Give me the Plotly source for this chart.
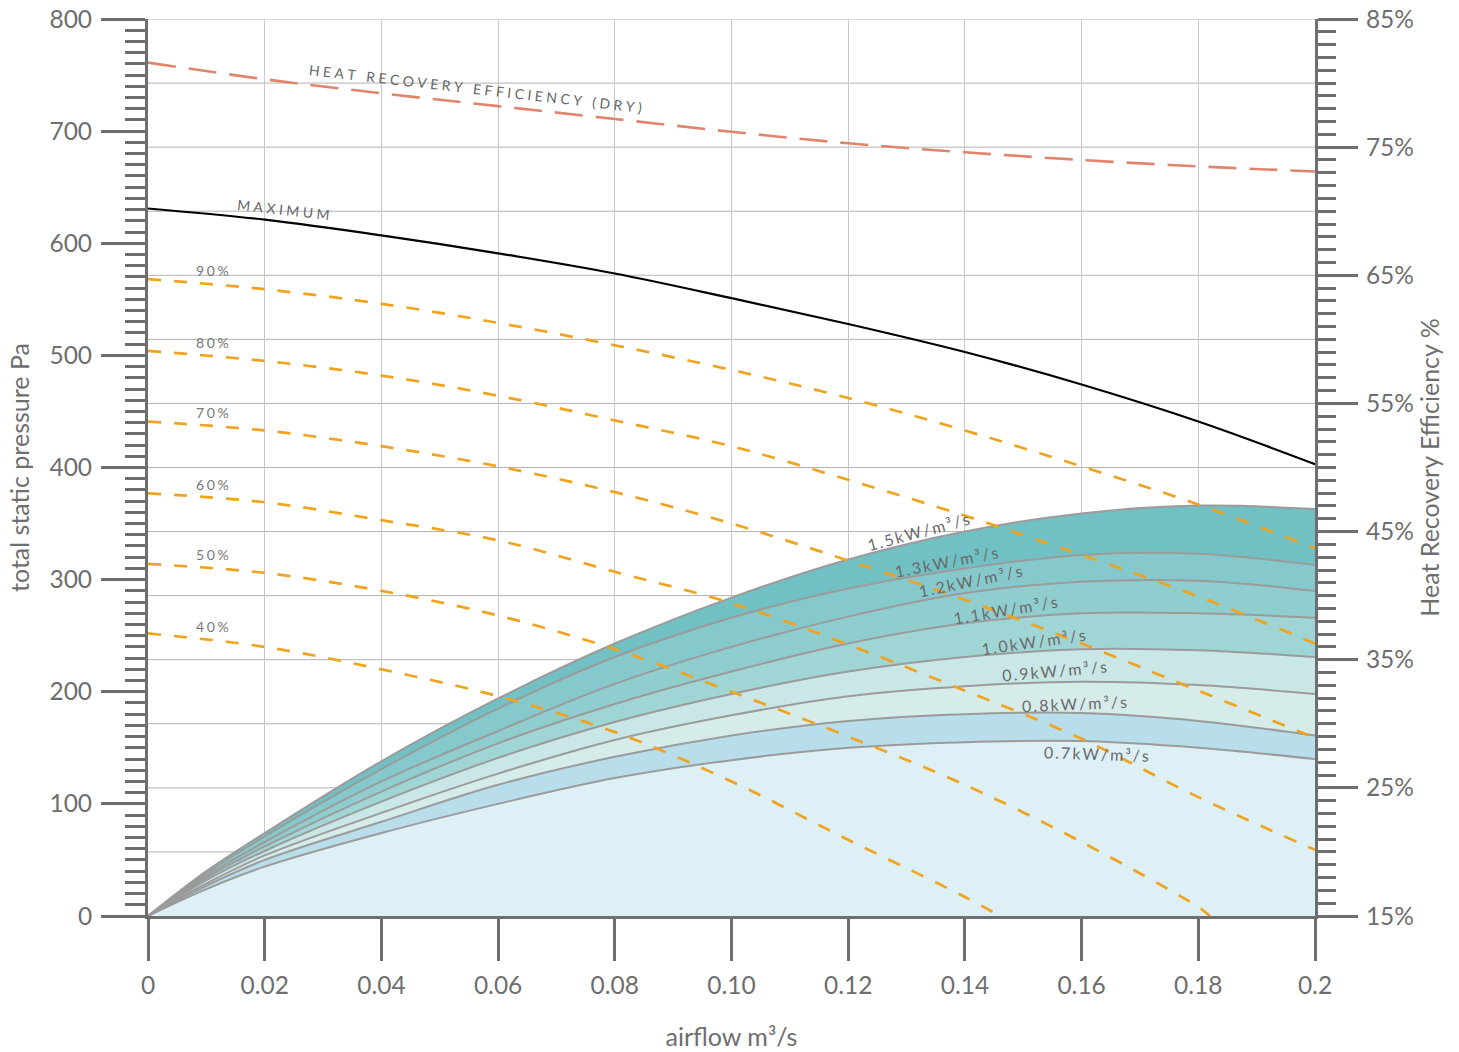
import numpy as np
import plotly.graph_objects as go

# ---------------- data ----------------
airflow = [0, 0.02, 0.04, 0.06, 0.08, 0.10, 0.12, 0.14, 0.16, 0.18, 0.20]
sfp_x = [0, 0.01, 0.02, 0.04, 0.06, 0.08, 0.10, 0.12, 0.14, 0.16, 0.18, 0.20]
x_tick_vals = [0, 0.02, 0.04, 0.06, 0.08, 0.10, 0.12, 0.14, 0.16, 0.18, 0.20]
x_tick_text = ["0", "0.02", "0.04", "0.06", "0.08", "0.10", "0.12", "0.14", "0.16", "0.18", "0.2"]
eff_tick_vals = [15, 25, 35, 45, 55, 65, 75, 85]
eff_tick_text = ["15%", "25%", "35%", "45%", "55%", "65%", "75%", "85%"]
eff_grid_vals = [15, 20, 25, 30, 35, 40, 45, 50, 55, 60, 65, 70, 75, 80, 85]

# heat recovery efficiency (dry), % (right axis)
hre_dry = [81.6, 80.3, 79.2, 78.2, 77.2, 76.2, 75.3, 74.6, 74.0, 73.5, 73.1]
# maximum fan curve, Pa
maximum = [631, 621, 607, 591, 573, 551, 528, 503, 474, 441, 403]

# fan speed curves, Pa
speed_90 = [568, 559, 546, 529, 509, 487, 462, 433, 401, 367, 328]
speed_80 = [504, 495, 482, 464, 442, 419, 389, 357, 322, 285, 243]
speed_70 = [441, 433, 419, 401, 378, 350, 317, 282, 243, 201, 159]
speed_60 = [377, 369, 353, 335, 307, 279, 242, 201, 158, 106, 59]
speed_50_x = [0, 0.02, 0.04, 0.06, 0.08, 0.10, 0.12, 0.14, 0.16, 0.18, 0.182]
speed_50 = [314, 306, 290, 268, 238, 200, 160, 117, 66, 8, 0]
speed_40_x = [0, 0.02, 0.04, 0.06, 0.08, 0.10, 0.12, 0.14, 0.146]
speed_40 = [252, 240, 220, 196, 164, 120, 68, 17, 0]

# specific fan power boundaries, Pa (at sfp_x)
sfp_07 = [0, 24, 44, 74, 100, 123, 139, 150, 155, 156, 150, 140]
sfp_08 = [0, 27, 50, 84, 117, 142, 161, 174, 180, 181, 174, 161]
sfp_09 = [0, 29, 54, 92, 127, 157, 179, 196, 205, 209, 206, 198]
sfp_10 = [0, 32, 58, 102, 141, 173, 198, 218, 231, 238, 237, 231]
sfp_11 = [0, 34, 62, 111, 154, 189, 218, 243, 261, 270, 270, 266]
sfp_12 = [0, 36, 66, 120, 165, 207, 240, 267, 288, 298, 299, 290]
sfp_13 = [0, 38, 71, 131, 185, 231, 266, 292, 310, 322, 323, 313]
sfp_15 = [0, 40, 74, 138, 194, 243, 284, 318, 343, 359, 366, 363]

sfp_labels = ["0.7kW/m³/s", "0.8kW/m³/s", "0.9kW/m³/s", "1.0kW/m³/s",
              "1.1kW/m³/s", "1.2kW/m³/s", "1.3kW/m³/s", "1.5kW/m³/s"]
speed_labels = ["90%", "80%", "70%", "60%", "50%", "40%"]

# ---------------- styling ----------------
FONT = "Lato"
AXIS = "#6e6e6e"
TXT = "#6e6e6e"
ORANGE = "#f0a31e"
SALMON = "#e0846b"
LINEGRAY = "#9b9b9b"
fills = ["#ddf0f6", "#b9deeb", "#d5ecea", "#c8e7e6", "#a0d5d6", "#8fcdcf", "#86c9cc", "#71c0c4"]
WIDE = "\u2009\u200a"
WIDER = "\u2009\u200a\u200a"


def spaced(s, sep=WIDE):
    return sep.join(list(s))


fig = go.Figure()

# horizontal grid following the right (efficiency) axis
for g in eff_grid_vals:
    fig.add_shape(type="line", xref="paper", x0=0, x1=1, yref="y2", y0=g, y1=g,
                  line=dict(color="#b3b3b3", width=1), layer="below")

# filled SFP bands
sfp_series = [sfp_07, sfp_08, sfp_09, sfp_10, sfp_11, sfp_12, sfp_13, sfp_15]
for i, (ys, fc) in enumerate(zip(sfp_series, fills)):
    fig.add_trace(go.Scatter(
        x=sfp_x, y=ys, mode="lines",
        line=dict(color=LINEGRAY, width=2, shape="spline", smoothing=1.0),
        fill="tozeroy" if i == 0 else "tonexty", fillcolor=fc,
        hoverinfo="skip", showlegend=False))

# fan speed curves
speed_series = [(airflow, speed_90), (airflow, speed_80), (airflow, speed_70),
                (airflow, speed_60), (speed_50_x, speed_50), (speed_40_x, speed_40)]
for xs, ys in speed_series:
    fig.add_trace(go.Scatter(
        x=xs, y=ys, mode="lines",
        line=dict(color=ORANGE, width=2.7, dash="13px,13px", shape="spline"),
        hoverinfo="skip", showlegend=False))

# maximum
fig.add_trace(go.Scatter(x=airflow, y=maximum, mode="lines",
                         line=dict(color="#000000", width=2.2, shape="spline"),
                         hoverinfo="skip", showlegend=False))

# heat recovery efficiency on right axis
fig.add_trace(go.Scatter(x=airflow, y=hre_dry, mode="lines", yaxis="y2",
                         line=dict(color=SALMON, width=2.6, dash="28px,13px", shape="spline"),
                         hoverinfo="skip", showlegend=False))

annotations = []
# speed labels
for (xs, ys), lab in zip(speed_series, speed_labels):
    xl = 0.011
    annotations.append(dict(x=xl, y=float(np.interp(xl, xs, ys)), xref="x", yref="y",
                            text=spaced(lab), showarrow=False, yshift=14,
                            font=dict(family=FONT, size=14, color="#777777")))

# SFP labels: (x position, yshift px, angle)
sfp_label_pos = [(0.1625, -12, 2), (0.1587, 10, -2.5), (0.1554, 12, -5), (0.1517, 11, -8),
                 (0.147, 10, -9.5), (0.141, 12, -11.5), (0.1368, 10, -11), (0.132, 11, -15)]
for ys, lab, (xl, ysh, ang) in zip(sfp_series, sfp_labels, sfp_label_pos):
    annotations.append(dict(x=xl, y=float(np.interp(xl, sfp_x, ys)), xref="x", yref="y",
                            text=spaced(lab, "\u2009"), showarrow=False, yshift=ysh,
                            textangle=ang,
                            font=dict(family=FONT, size=16, color="#6a6a6a")))

annotations.append(dict(x=0.0233, y=float(np.interp(0.0233, airflow, maximum)), xref="x", yref="y",
                        text=spaced("MAXIMUM", WIDER), showarrow=False, yshift=13, textangle=6.5,
                        font=dict(family=FONT, size=14, color="#666666")))
annotations.append(dict(x=0.0562, y=float(np.interp(0.0562, airflow, hre_dry)), xref="x", yref="y2",
                        text=spaced("HEAT RECOVERY EFFICIENCY (DRY)", WIDER), showarrow=False,
                        yshift=15, textangle=6.5,
                        font=dict(family=FONT, size=14, color="#666666")))

tickfont = dict(family=FONT, size=24.5, color=TXT)
titlefont = dict(family=FONT, size=25, color=TXT)

fig.update_layout(
    width=1459, height=1052,
    margin=dict(l=148, r=144, t=19, b=136, autoexpand=False),
    paper_bgcolor="white", plot_bgcolor="white",
    showlegend=False,
    annotations=annotations,
    xaxis=dict(range=[0, 0.2], tickvals=x_tick_vals, ticktext=x_tick_text,
               showgrid=True, gridcolor="#c9c9c9", gridwidth=1,
               showline=True, linecolor=AXIS, linewidth=3, zeroline=False,
               ticks="outside", ticklen=42, tickwidth=3, tickcolor=AXIS,
               tickfont=tickfont, ticklabelstandoff=4, automargin=False,
               title=dict(text="airflow m³/s", font=titlefont, standoff=31)),
    yaxis=dict(range=[0, 800], dtick=100, showgrid=False, zeroline=False,
               showline=True, linecolor=AXIS, linewidth=3,
               ticks="outside", ticklen=44, tickwidth=3, tickcolor=AXIS,
               minor=dict(dtick=10, ticks="outside", ticklen=20, tickwidth=2.5,
                          tickcolor=AXIS, showgrid=False),
               tickfont=tickfont, ticklabelstandoff=4, automargin=False,
               title=dict(text="total static pressure Pa", font=titlefont, standoff=13)),
    yaxis2=dict(range=[15, 85], overlaying="y", side="right", tickvals=eff_tick_vals,
                ticktext=eff_tick_text, showgrid=False, zeroline=False,
                showline=True, linecolor=AXIS, linewidth=3,
                ticks="outside", ticklen=40, tickwidth=3, tickcolor=AXIS,
                minor=dict(dtick=1, ticks="outside", ticklen=18, tickwidth=2.5,
                           tickcolor=AXIS, showgrid=False),
                tickfont=tickfont, ticklabelstandoff=3, automargin=False,
                title=dict(text="Heat Recovery Efficiency %", font=titlefont, standoff=9)),
)

fig.write_html("out.html", config={"displayModeBar": False},
               post_script="document.body.style.margin='0';document.body.style.overflow='hidden';")
